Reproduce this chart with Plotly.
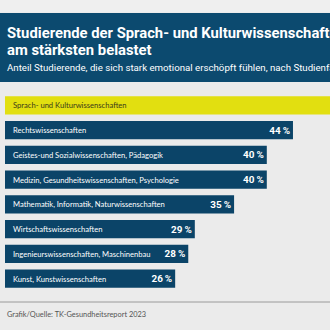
import plotly.graph_objects as go

categories = [
    "Sprach- und Kulturwissenschaften",
    "Rechtswissenschaften",
    "Geistes-und Sozialwissenschaften, Pädagogik",
    "Medizin, Gesundheitswissenschaften, Psychologie",
    "Mathematik, Informatik, Naturwissenschaften",
    "Wirtschaftswissenschaften",
    "Ingenieurswissenschaften, Maschinenbau",
    "Kunst, Kunstwissenschaften",
]
values = [52, 44, 40, 40, 35, 29, 28, 26]
# the first bar's value label lies outside the visible frame in the reference
value_labels = [""] + [f"<b>{v}\u2009%</b>" for v in values[1:]]

title_lines = ["Studierende der Sprach- und Kulturwissenschaften", "am stärksten belastet"]
subtitle = "Anteil Studierende, die sich stark emotional erschöpft fühlen, nach Studienfach"
source = "Grafik/Quelle: TK-Gesundheitsreport 2023"

NAVY = "#0b4468"
HEADER = "#0c4a6f"
YELLOW = "#e2df10"
BG = "#ebebeb"
FONT = "Roboto"
SMALL = "Lato"

W, H = 330, 330
ML, MR, MT, MB = 5, 0, 93, 39
PW, PH = W - ML - MR, H - MT - MB


def px_x(x):
    return (x - ML) / PW


def px_y(y):
    return (H - MB - y) / PH


colors = [YELLOW] + [NAVY] * (len(categories) - 1)
text_colors = ["#3a3a1a"] + ["white"] * (len(categories) - 1)

fig = go.Figure()
fig.add_trace(go.Bar(
    x=values, y=categories, orientation="h",
    marker=dict(color=colors, line=dict(width=0)),
    width=0.73,
    text=value_labels, textposition="inside", insidetextanchor="end",
    textfont=dict(family=FONT, size=11.5, color="white"),
    textangle=0, cliponaxis=True, hoverinfo="skip",
))

annotations = []
for c, tc in zip(categories, text_colors):
    annotations.append(dict(
        x=0, y=c, xref="x", yref="y", text=c, showarrow=False,
        xanchor="left", yanchor="middle", xshift=6,
        font=dict(family=SMALL, size=7.6, color=tc),
    ))

annotations.append(dict(x=px_x(5), y=px_y(33), xref="paper", yref="paper",
                        text="<b>" + title_lines[0] + "</b>", showarrow=False,
                        xanchor="left", yanchor="middle",
                        font=dict(family=FONT, size=14.8, color="white")))
annotations.append(dict(x=px_x(5), y=px_y(50), xref="paper", yref="paper",
                        text="<b>" + title_lines[1] + "</b>", showarrow=False,
                        xanchor="left", yanchor="middle",
                        font=dict(family=FONT, size=14.8, color="white")))
annotations.append(dict(x=px_x(5), y=px_y(67), xref="paper", yref="paper",
                        text=subtitle, showarrow=False,
                        xanchor="left", yanchor="middle",
                        font=dict(family=FONT, size=9.7, color="white")))
annotations.append(dict(x=px_x(5), y=px_y(314), xref="paper", yref="paper",
                        text=source, showarrow=False,
                        xanchor="left", yanchor="middle",
                        font=dict(family=SMALL, size=7.4, color="#555555")))

shapes = [
    dict(type="rect", xref="paper", yref="paper", x0=px_x(0), x1=px_x(W),
         y0=px_y(12), y1=px_y(0), fillcolor="#efefef", line=dict(width=0), layer="below"),
    dict(type="rect", xref="paper", yref="paper", x0=px_x(0), x1=px_x(W),
         y0=px_y(82), y1=px_y(13), fillcolor=HEADER, line=dict(width=0), layer="below"),
    dict(type="line", xref="paper", yref="paper", x0=px_x(0), x1=px_x(W),
         y0=px_y(302), y1=px_y(302), line=dict(color="#9a9a9a", width=1)),
]

fig.update_layout(
    width=W, height=H,
    margin=dict(l=ML, r=MR, t=MT, b=MB, pad=0),
    paper_bgcolor=BG, plot_bgcolor=BG,
    showlegend=False,
    bargap=0.27,
    xaxis=dict(range=[0, PW / 6.545], visible=False, fixedrange=True),
    yaxis=dict(autorange="reversed", visible=False, fixedrange=True),
    annotations=annotations, shapes=shapes,
)

fig.write_html("out.html", config={"displayModeBar": False})
